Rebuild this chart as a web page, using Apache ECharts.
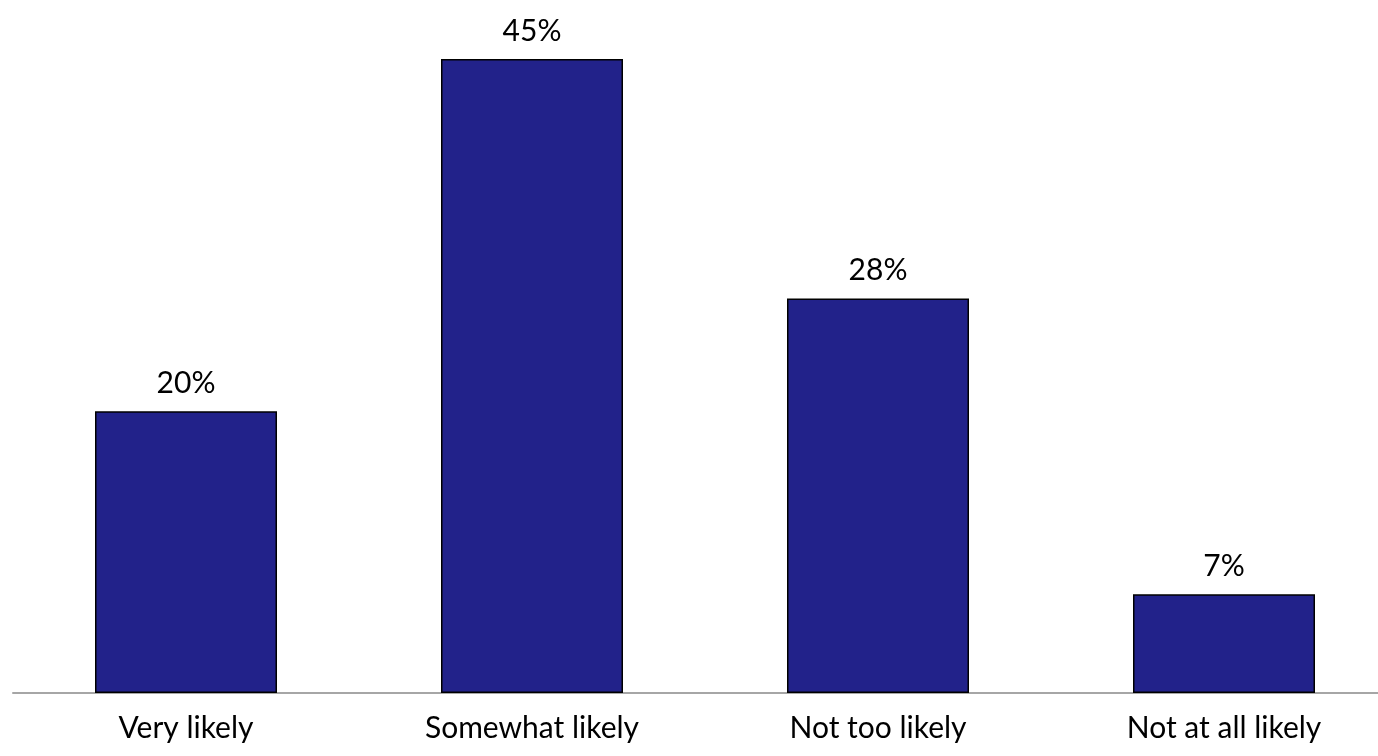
<!DOCTYPE html>
<html>
<head>
<meta charset="utf-8">
<script src="https://cdn.jsdelivr.net/npm/echarts@6/dist/echarts.min.js"></script>
<style>
html,body{margin:0;padding:0;background:#fff;}
#chart{width:1378px;height:756px;}
</style>
</head>
<body>
<div id="chart"></div>
<script>
const categories = ["Very likely", "Somewhat likely", "Not too likely", "Not at all likely"];
const values = [20, 45, 28, 7];

const chart = echarts.init(document.getElementById('chart'), null, {renderer: 'canvas'});
chart.setOption({
  animation: false,
  backgroundColor: '#ffffff',
  grid: { left: 13, width: 1384, top: -11.5, height: 704.5, containLabel: false, outerBoundsMode: 'none' },
  xAxis: {
    type: 'category',
    data: categories,
    axisLine: { show: true, lineStyle: { color: '#a6a6a6', width: 2 } },
    axisTick: { show: false },
    axisLabel: { color: '#000', fontFamily: 'Lato', fontSize: 30, margin: 20 }
  },
  yAxis: {
    type: 'value', min: 0, max: 50,
    show: false,
    splitLine: { show: false }
  },
  series: [{
    type: 'bar',
    data: values,
    barWidth: 182,
    itemStyle: { color: '#22228a', borderColor: '#000', borderWidth: 1.5 },
    label: {
      show: true, position: 'top', distance: 13,
      formatter: '{c}%', color: '#000', fontFamily: 'Lato', fontSize: 30
    }
  }]
});
</script>
</body>
</html>
